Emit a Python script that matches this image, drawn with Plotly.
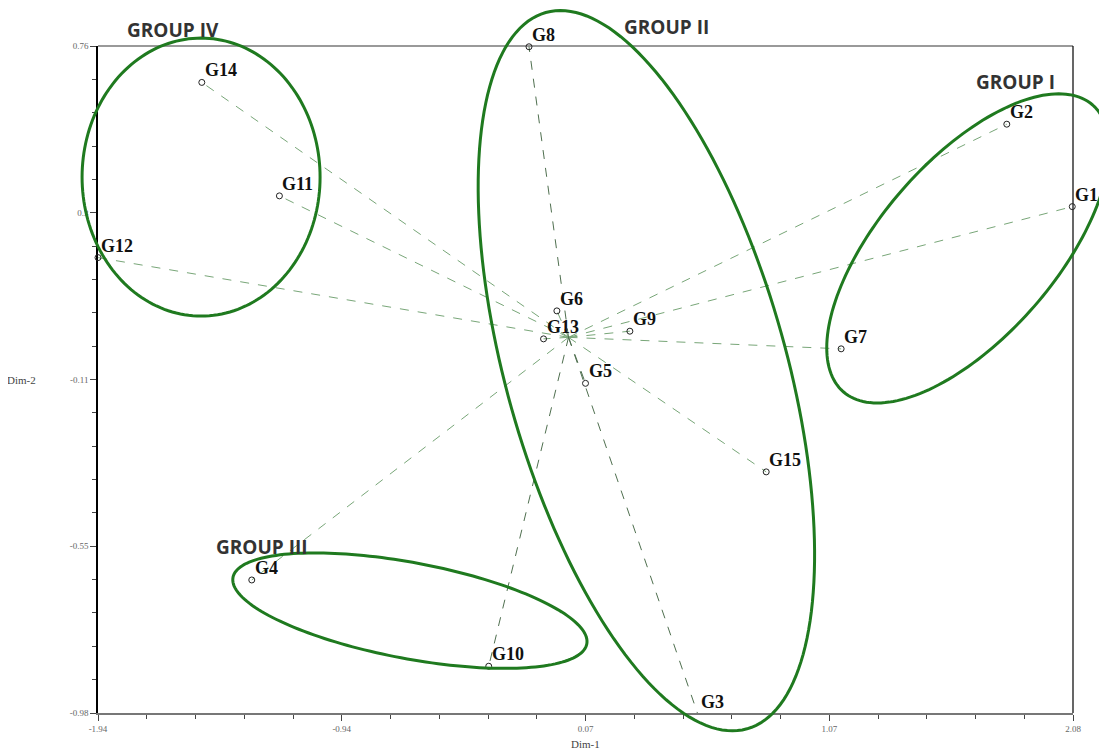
import numpy as np
import plotly.graph_objects as go

# ---------------- data ----------------
genotypes = ["G1", "G2", "G3", "G4", "G5", "G6", "G7", "G8", "G9", "G10",
             "G11", "G12", "G13", "G14", "G15"]
dim1 = [2.077, 1.807, 0.533, -1.306, 0.070, -0.048, 1.124, -0.163, 0.253, -0.329,
        -1.192, -1.940, -0.103, -1.512, 0.815]
dim2 = [0.341, 0.556, -0.983, -0.633, -0.120, 0.069, -0.030, 0.758, 0.016, -0.858,
        0.369, 0.208, -0.004, 0.665, -0.351]
dark_vectors = ["G8", "G10", "G3", "G5"]

x_tick_vals = [-1.94, -0.935, 0.07, 1.075, 2.08]
x_tick_text = ["-1.94", "-0.94", "0.07", "1.07", "2.08"]
y_tick_vals = [0.76, 0.325, -0.11, -0.545, -0.98]
y_tick_text = ["0.76", "0.3", "-0.11", "-0.55", "-0.98"]

group_names = ["GROUP I", "GROUP II", "GROUP III", "GROUP IV"]
group_cx = [1.647, 0.321, -0.654, -1.515]
group_cy = [0.232, -0.087, -0.713, 0.418]
group_label_x = [1.841, 0.406, -1.264, -1.631]
group_label_y = [0.666, 0.810, -0.548, 0.802]

X_MIN, X_MAX = -1.94, 2.08
Y_MIN, Y_MAX = -0.98, 0.76

# ---------------- layout geometry ----------------
W, H = 1099, 747
ML, MR, MT, MB = 90, 34, 38, 42
PW, PH = W - ML - MR, H - MT - MB

# ellipse styling: semi-axes (px) and screen rotation (deg, y down)
ell_a = [190, 372, 180, 139]
ell_b = [88, 140, 48, 119]
ell_rot = [-49, 74.3, 10.65, 90]


def to_paper_x(x):
    return (x - X_MIN) / (X_MAX - X_MIN)


def to_paper_y(y):
    return (y - Y_MIN) / (Y_MAX - Y_MIN)


def ellipse_path(cx, cy, a, b, rot):
    t = np.linspace(0, 2 * np.pi, 181)
    r = np.deg2rad(rot)
    dx = a * np.cos(t) * np.cos(r) - b * np.sin(t) * np.sin(r)
    dy = a * np.cos(t) * np.sin(r) + b * np.sin(t) * np.cos(r)  # screen px, y down
    px = to_paper_x(cx) + dx / PW
    py = to_paper_y(cy) - dy / PH
    pts = [f"{x:.5f},{y:.5f}" for x, y in zip(px, py)]
    return "M " + " L ".join(pts) + " Z"


fig = go.Figure()

# vectors from origin
for dark in (False, True):
    xs, ys = [], []
    for g, x, y in zip(genotypes, dim1, dim2):
        if (g in dark_vectors) == dark:
            xs += [0, x, None]
            ys += [0, y, None]
    fig.add_trace(go.Scatter(
        x=xs, y=ys, mode="lines",
        line=dict(color="#4f6f4f" if dark else "#78a678", width=1, dash="dash"),
        hoverinfo="skip", showlegend=False))

# points
fig.add_trace(go.Scatter(
    x=dim1, y=dim2, mode="markers", text=genotypes,
    marker=dict(symbol="circle-open", size=6, color="#222", line=dict(width=1)),
    cliponaxis=False, showlegend=False, hovertemplate="%{text}<extra></extra>"))

annotations = []
for g, x, y in zip(genotypes, dim1, dim2):
    annotations.append(dict(
        x=to_paper_x(x), y=to_paper_y(y), xref="paper", yref="paper",
        text=f"<b>{g}</b>", showarrow=False,
        xanchor="left", yanchor="bottom", xshift=1, yshift=0,
        font=dict(family="Liberation Serif", size=18, color="#111")))

for name, lx, ly in zip(group_names, group_label_x, group_label_y):
    annotations.append(dict(
        x=to_paper_x(lx), y=to_paper_y(ly), xref="paper", yref="paper",
        text=f"<b>{name}</b>", showarrow=False,
        xanchor="center", yanchor="middle",
        font=dict(family="Open Sans", size=19, color="#333")))

annotations.append(dict(x=0.5, y=-0.047, xref="paper", yref="paper", text="Dim-1",
                        showarrow=False, xanchor="center", yanchor="middle",
                        font=dict(family="Liberation Serif", size=11, color="#444")))
annotations.append(dict(x=-0.078, y=to_paper_y(-0.11), xref="paper",
                        yref="paper", text="Dim-2", showarrow=False,
                        xanchor="center", yanchor="middle",
                        font=dict(family="Liberation Serif", size=11, color="#444")))

shapes = []
for cx, cy, a, b, rot in zip(group_cx, group_cy, ell_a, ell_b, ell_rot):
    shapes.append(dict(type="path", xref="paper", yref="paper",
                       path=ellipse_path(cx, cy, a, b, rot),
                       line=dict(color="#1f7a1f", width=3), layer="above"))
# frame top and right
shapes.append(dict(type="line", xref="paper", yref="paper", x0=0, x1=1, y0=1, y1=1,
                   line=dict(color="#777", width=1.5), layer="below"))
shapes.append(dict(type="line", xref="paper", yref="paper", x0=1, x1=1, y0=0, y1=1,
                   line=dict(color="#000", width=1.2), layer="below"))

fig.update_layout(
    width=W, height=H,
    margin=dict(l=ML, r=MR, t=MT, b=MB),
    paper_bgcolor="white", plot_bgcolor="white",
    annotations=annotations, shapes=shapes,
    xaxis=dict(range=[X_MIN, X_MAX], tickvals=x_tick_vals, ticktext=x_tick_text,
               showgrid=False, zeroline=False, showline=True, linecolor="#777",
               linewidth=1.5, ticks="outside", ticklen=6, tickcolor="#444",
               layer="below traces",
               tickfont=dict(family="Liberation Serif", size=9, color="#666"),
               minor=dict(ticks="outside", ticklen=4, tick0=X_MIN, dtick=0.201,
                          tickcolor="#444", showgrid=False)),
    yaxis=dict(range=[Y_MIN, Y_MAX], tickvals=y_tick_vals, ticktext=y_tick_text,
               showgrid=False, zeroline=False, showline=True, linecolor="#000",
               linewidth=1.5, ticks="outside", ticklen=6, tickcolor="#444",
               layer="below traces",
               tickfont=dict(family="Liberation Serif", size=9, color="#666"),
               minor=dict(ticks="outside", ticklen=4, tick0=Y_MIN, dtick=0.087,
                          tickcolor="#444", showgrid=False)),
)

fig.write_html("out.html")
